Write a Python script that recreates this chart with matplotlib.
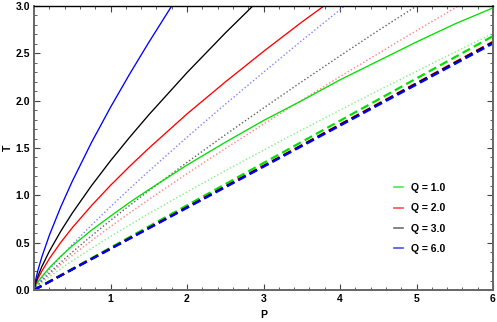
import matplotlib
matplotlib.use("Agg")
import matplotlib.pyplot as plt
from matplotlib.lines import Line2D
from matplotlib.ticker import MultipleLocator

plt.rcParams['font.family'] = ['Liberation Sans', 'DejaVu Sans']

# ---- data ----
P_full = [0, 0.02, 0.05, 0.1, 0.2, 0.35, 0.5, 0.75, 1.0, 1.25, 1.5, 2.0, 2.5, 3.0, 3.5, 4.0, 4.5, 5.0, 5.5, 6.0]

# solid curves
T_q1_solid = [0, 0.042, 0.083, 0.139, 0.234, 0.356, 0.466, 0.631, 0.78, 0.925, 1.06, 1.32, 1.56, 1.79, 2.0, 2.22, 2.42, 2.62, 2.81, 2.98]
P_q2_solid = [0, 0.02, 0.05, 0.1, 0.2, 0.35, 0.5, 0.75, 1.0, 1.25, 1.5, 2.0, 2.5, 3.0, 3.5, 3.79]
T_q2_solid = [0, 0.059, 0.117, 0.196, 0.33, 0.503, 0.657, 0.89, 1.105, 1.306, 1.497, 1.86, 2.197, 2.52, 2.83, 3.0]
P_q3_solid = [0, 0.02, 0.05, 0.1, 0.2, 0.35, 0.5, 0.75, 1.0, 1.25, 1.5, 2.0, 2.5, 2.86]
T_q3_solid = [0, 0.073, 0.144, 0.243, 0.408, 0.621, 0.812, 1.10, 1.365, 1.613, 1.85, 2.296, 2.714, 3.0]
P_q6_solid = [0, 0.02, 0.05, 0.1, 0.2, 0.35, 0.5, 0.75, 1.0, 1.25, 1.5, 1.8]
T_q6_solid = [0, 0.103, 0.204, 0.343, 0.577, 0.878, 1.148, 1.556, 1.93, 2.281, 2.615, 3.0]

# dotted curves
T_q1_dot = [0, 0.018, 0.041, 0.075, 0.138, 0.225, 0.308, 0.439, 0.565, 0.687, 0.806, 1.036, 1.26, 1.477, 1.691, 1.90, 2.107, 2.31, 2.511, 2.71]
P_q2_dot = [0, 0.02, 0.05, 0.1, 0.2, 0.35, 0.5, 0.75, 1.0, 1.25, 1.5, 2.0, 2.5, 3.0, 3.5, 4.0, 4.5, 5.0, 5.5, 5.55]
T_q2_dot = [0, 0.022, 0.049, 0.089, 0.164, 0.267, 0.365, 0.521, 0.67, 0.814, 0.955, 1.229, 1.494, 1.752, 2.005, 2.254, 2.498, 2.74, 2.977, 3.0]
P_q3_dot = [0, 0.02, 0.05, 0.1, 0.2, 0.35, 0.5, 0.75, 1.0, 1.25, 1.5, 2.0, 2.5, 3.0, 3.5, 4.0, 4.5, 5.0]
T_q3_dot = [0, 0.024, 0.053, 0.098, 0.18, 0.293, 0.40, 0.571, 0.735, 0.893, 1.048, 1.348, 1.639, 1.922, 2.20, 2.473, 2.741, 3.0]
P_q6_dot = [0, 0.02, 0.05, 0.1, 0.2, 0.35, 0.5, 0.75, 1.0, 1.25, 1.5, 2.0, 2.5, 3.0, 3.5, 4.0, 4.06]
T_q6_dot = [0, 0.029, 0.064, 0.117, 0.215, 0.351, 0.48, 0.684, 0.88, 1.07, 1.255, 1.614, 1.962, 2.30, 2.634, 2.96, 3.0]

# dashed curves
P_dash = [0, 1.0, 2.0, 3.0, 4.0, 5.0, 6.0]
T_q1_dash = [0, 0.447, 0.894, 1.341, 1.788, 2.235, 2.682]
T_q2_dash = [0, 0.437, 0.874, 1.311, 1.748, 2.185, 2.622]
T_q3_dash = [0, 0.436, 0.872, 1.308, 1.744, 2.180, 2.616]
T_q6_dash = [0, 0.434, 0.868, 1.302, 1.736, 2.170, 2.604]

legend_labels = ["Q = 1.0", "Q = 2.0", "Q = 3.0", "Q = 6.0"]
x_ticks = [1, 2, 3, 4, 5, 6]
y_ticks = [0.0, 0.5, 1.0, 1.5, 2.0, 2.5, 3.0]

# ---- figure ----
fig = plt.figure(figsize=(4.97, 3.22), dpi=100)
ax = fig.add_axes([34/497, 1-290/322, 459/497, 284/322])

c_green, c_red, c_black, c_blue = '#00e000', '#ff0000', '#000000', '#0000ff'

dot = (0, (1.0, 1.6))
ax.plot(P_full, T_q1_dot, color='#80f080', lw=1.0, linestyle=dot)
ax.plot(P_q2_dot, T_q2_dot, color='#ff8080', lw=1.0, linestyle=dot)
ax.plot(P_q3_dot, T_q3_dot, color='#606060', lw=1.0, linestyle=dot)
ax.plot(P_q6_dot, T_q6_dot, color='#8080ff', lw=1.0, linestyle=dot)

ax.plot(P_full, T_q1_solid, color=c_green, lw=0.95)
ax.plot(P_q2_solid, T_q2_solid, color=c_red, lw=0.95)
ax.plot(P_q3_solid, T_q3_solid, color=c_black, lw=0.95)
ax.plot(P_q6_solid, T_q6_solid, color=c_blue, lw=0.95)

dash = (0, (3.8, 2.0))
ax.plot(P_dash, T_q1_dash, color=c_green, lw=1.6, linestyle=dash)
ax.plot(P_dash, T_q2_dash, color=c_red, lw=1.6, linestyle=dash)
ax.plot(P_dash, T_q3_dash, color=c_black, lw=1.6, linestyle=dash)
ax.plot(P_dash, T_q6_dash, color=c_blue, lw=1.6, linestyle=dash)

ax.set_xlim(0, 6)
ax.set_ylim(0, 3)
ax.set_xticks(x_ticks)
ax.set_yticks(y_ticks)
ax.set_yticklabels([f"{v:.1f}" for v in y_ticks])
ax.xaxis.set_minor_locator(MultipleLocator(0.2))
ax.yaxis.set_minor_locator(MultipleLocator(0.1))
ax.tick_params(which='both', direction='in', top=True, right=True,
               labelsize=7.5, colors='#444444', labelcolor='black', pad=3)
ax.tick_params(which='major', length=4, width=0.8)
ax.tick_params(which='minor', length=2, width=0.6)
for lab in ax.get_xticklabels() + ax.get_yticklabels():
    lab.set_fontweight('bold')

for side in ['left', 'bottom', 'right']:
    ax.spines[side].set_color('#666666')
    ax.spines[side].set_linewidth(1.4)
ax.spines['top'].set_color('black')
ax.spines['top'].set_linewidth(1.0)

ax.set_xlabel("P", fontsize=7.5, fontweight='bold')
ax.set_ylabel("T", fontsize=7.5, fontweight='bold', va='center', ha='center')
ax.yaxis.set_label_coords(-0.058, 0.5)
ax.xaxis.set_label_coords(0.5, -0.07)

handles = [Line2D([], [], color=c, lw=1.2, alpha=0.7) for c in (c_green, c_red, '#333333', c_blue)]
ax.legend(handles, legend_labels, loc='center left', bbox_to_anchor=(0.785, 0.252),
          frameon=False, handlelength=0.8, handletextpad=0.8, labelspacing=1.0,
          borderpad=0, borderaxespad=0, prop={'size': 7.5, 'weight': 'bold'})

fig.savefig("out.png", dpi=100)
